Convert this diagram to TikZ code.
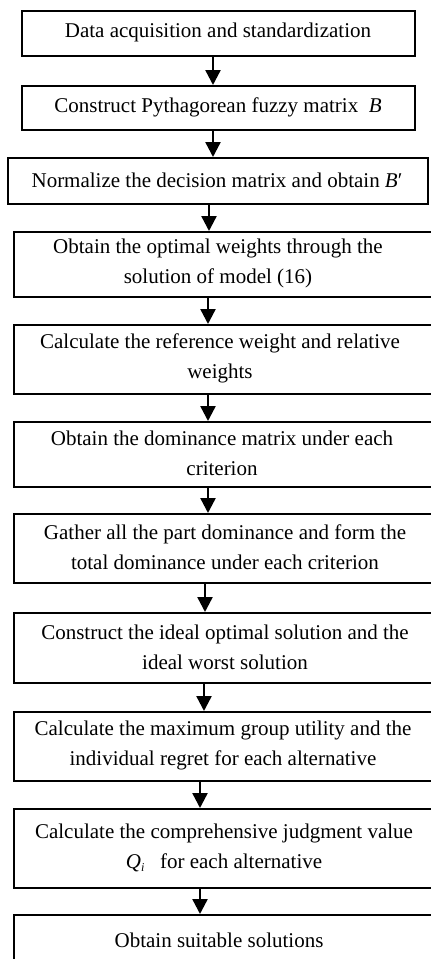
\documentclass[tikz,border=0pt]{standalone}
\usepackage{fontspec}
\setmainfont{Liberation Serif}
\usetikzlibrary{arrows.meta}
\begin{document}
\begin{tikzpicture}[x=1pt,y=-1pt,
  boxstyle/.style={draw=black,line width=1.6pt,inner sep=0pt,anchor=north west},
  txt/.style={align=center,inner sep=0pt,font=\fontsize{21}{30}\selectfont},
  arr/.style={line width=2.4pt,-{Triangle[width=15pt,length=15pt]}}]
\useasboundingbox (0,0) rectangle (431,959);
\clip (0,0) rectangle (431,959);
% boxes
\node[boxstyle,minimum width=393pt,minimum height=45pt] (b1) at (21,10) {};
\node[boxstyle,minimum width=393pt,minimum height=44pt] (b2) at (21,85) {};
\node[boxstyle,minimum width=420pt,minimum height=46pt] (b3) at (7,157) {};
\node[boxstyle,minimum width=430pt,minimum height=65pt] (b4) at (13,231) {};
\node[boxstyle,minimum width=430pt,minimum height=69pt] (b5) at (13,324) {};
\node[boxstyle,minimum width=430pt,minimum height=65pt] (b6) at (13,421) {};
\node[boxstyle,minimum width=430pt,minimum height=69pt] (b7) at (13,513) {};
\node[boxstyle,minimum width=430pt,minimum height=70pt] (b8) at (13,612) {};
\node[boxstyle,minimum width=430pt,minimum height=69pt] (b9) at (13,711) {};
\node[boxstyle,minimum width=430pt,minimum height=79pt] (b10) at (13,808) {};
\node[boxstyle,minimum width=430pt,minimum height=55pt] (b11) at (13,914) {};
% texts
\node[txt] (t1) at (218,32.5) {Data acquisition and standardization};
\node[txt] (t2) at (218,107) {Construct Pythagorean fuzzy matrix\ \ \textit{B}};
\node[txt] (t3) at (217,180) {Normalize the decision matrix and obtain \textit{B}′};
\node[txt] (t4) at (218,263.5) {Obtain the optimal weights through the\\solution of model (16)};
\node[txt] (t5) at (220,358.5) {Calculate the reference weight and relative\\weights};
\node[txt] (t6) at (222,453.5) {Obtain the dominance matrix under each\\criterion};
\node[txt] (t7) at (225,547.5) {Gather all the part dominance and form the\\total dominance under each criterion};
\node[txt] (t8) at (225,647) {Construct the ideal optimal solution and the\\ideal worst solution};
\node[txt] (t9) at (223,745.5) {Calculate the maximum group utility and the\\individual regret for each alternative};
\node[txt] (t10) at (224,847.5) {Calculate the comprehensive judgment value\\\textit{Q}\raisebox{-0.35ex}{\fontsize{12}{12}\selectfont\textit{i}}\ \ \ for each alternative};
\node[txt] (t11) at (219,940) {Obtain suitable solutions};
% arrows
\draw[arr] (b1.south -| 213,0) -- (b2.north -| 213,0);
\draw[arr] (b2.south -| 213,0) -- (b3.north -| 213,0);
\draw[arr] (b3.south -| 209,0) -- (b4.north -| 209,0);
\draw[arr] (b4.south -| 208,0) -- (b5.north -| 208,0);
\draw[arr] (b5.south -| 208,0) -- (b6.north -| 208,0);
\draw[arr] (b6.south -| 208,0) -- (b7.north -| 208,0);
\draw[arr] (b7.south -| 205,0) -- (b8.north -| 205,0);
\draw[arr] (b8.south -| 204,0) -- (b9.north -| 204,0);
\draw[arr] (b9.south -| 200,0) -- (b10.north -| 200,0);
\draw[arr] (b10.south -| 200,0) -- (b11.north -| 200,0);
\end{tikzpicture}
\end{document}
